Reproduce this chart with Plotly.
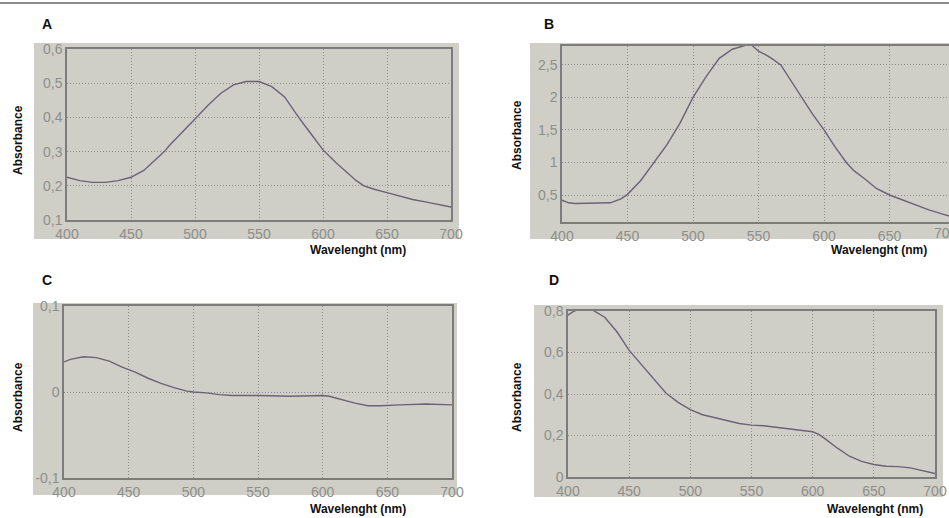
import plotly.graph_objects as go

W, H = 949, 518

# ---------------- data ----------------
wl_a = [400, 410, 420, 430, 440, 450, 460, 470, 476, 480, 490, 500, 510, 520, 530, 540, 550,
        560, 570, 581, 590, 600, 610, 620, 626, 632, 640, 650, 660, 670, 680, 690, 700]
abs_a = [0.225, 0.215, 0.21, 0.21, 0.215, 0.225, 0.245, 0.278, 0.30, 0.318, 0.355, 0.395,
         0.435, 0.47, 0.495, 0.505, 0.505, 0.49, 0.46, 0.40, 0.355, 0.305, 0.268, 0.235,
         0.215, 0.20, 0.19, 0.18, 0.17, 0.16, 0.153, 0.146, 0.138]

wl_b = [400, 405, 410, 420, 430, 437, 445, 450, 460, 470, 480, 490, 500, 510, 520, 530, 540,
        545, 550, 555, 560, 567, 575, 583, 591, 600, 608, 617, 623, 631, 640, 650, 660, 670,
        680, 690, 700]
abs_b = [0.42, 0.38, 0.37, 0.37, 0.37, 0.38, 0.44, 0.51, 0.72, 0.99, 1.27, 1.6, 2.0, 2.32,
         2.6, 2.74, 2.8, 2.8, 2.71, 2.66, 2.6, 2.5, 2.25, 2.0, 1.75, 1.5, 1.25, 1.0, 0.87,
         0.75, 0.6, 0.5, 0.42, 0.34, 0.27, 0.21, 0.15]

wl_c = [400, 405, 415, 425, 435, 445, 455, 465, 475, 485, 495, 500, 510, 520, 530, 550, 575,
        600, 605, 615, 625, 635, 645, 660, 680, 700]
abs_c = [0.035, 0.038, 0.041, 0.040, 0.036, 0.029, 0.023, 0.016, 0.010, 0.005, 0.001, 0.0,
         -0.001, -0.003, -0.004, -0.004, -0.005, -0.004, -0.005, -0.009, -0.013, -0.016,
         -0.016, -0.015, -0.014, -0.015]

wl_d = [400, 405, 410, 420, 430, 440, 450, 460, 470, 480, 490, 500, 510, 520, 530, 540, 550,
        560, 570, 580, 590, 600, 605, 610, 620, 630, 640, 650, 660, 670, 680, 690, 700]
abs_d = [0.78, 0.80, 0.81, 0.805, 0.77, 0.70, 0.61, 0.54, 0.47, 0.405, 0.36, 0.325, 0.30,
         0.285, 0.27, 0.258, 0.25, 0.247, 0.24, 0.233, 0.228, 0.218, 0.205, 0.185, 0.14, 0.10,
         0.075, 0.06, 0.052, 0.05, 0.044, 0.03, 0.017]

x_ticks = [400, 450, 500, 550, 600, 650, 700]
x_ticktext = ["400", "450", "500", "550", "600", "650", "700"]
ya_ticks = [0.1, 0.2, 0.3, 0.4, 0.5, 0.6]
ya_text = ["0,1", "0,2", "0,3", "0,4", "0,5", "0,6"]
yb_ticks = [0.5, 1, 1.5, 2, 2.5]
yb_text = ["0,5", "1", "1,5", "2", "2,5"]
yc_ticks = [-0.1, 0, 0.1]
yc_text = ["-0,1", "0", "0,1"]
yd_ticks = [0, 0.2, 0.4, 0.6, 0.8]
yd_text = ["0", "0,2", "0,4", "0,6", "0,8"]

panel_letters = ["A", "B", "C", "D"]
x_title = "Wavelenght (nm)"
y_title = "Absorbance"

# ---------------- styling ----------------
LINE = "#6c6278"
GRID = "#8c8c8c"
FRAME = "#7c7c7c"
TICKC = "#8e8e8a"
PHOTO = "#cfcfc7"
PLOTBG = "#dcdcd4"


def px_x(p):
    return p / W


def px_y(p):
    return 1 - p / H


fig = go.Figure()

panels = [
    dict(x=wl_a, y=abs_a, xd=(67, 451), yd=(49, 220), xr=[400, 700], yr=[0.1, 0.6],
         yt=ya_ticks, ytt=ya_text),
    dict(x=wl_b, y=abs_b, xd=(562, 949), yd=(46, 222), xr=[400, 695.4], yr=[0.085, 2.79],
         yt=yb_ticks, ytt=yb_text),
    dict(x=wl_c, y=abs_c, xd=(64, 452), yd=(306, 478), xr=[400, 700], yr=[-0.1, 0.1],
         yt=yc_ticks, ytt=yc_text),
    dict(x=wl_d, y=abs_d, xd=(568, 935), yd=(311, 477), xr=[400, 700], yr=[0, 0.8],
         yt=yd_ticks, ytt=yd_text),
]

tickfont = dict(family="Liberation Sans", size=14, color=TICKC)
layout_axes = {}
for i, p in enumerate(panels, start=1):
    xa = "x" if i == 1 else f"x{i}"
    ya = "y" if i == 1 else f"y{i}"
    fig.add_trace(go.Scatter(x=p["x"], y=p["y"], mode="lines", xaxis=xa, yaxis=ya,
                             line=dict(color=LINE, width=1.4),
                             showlegend=False, hoverinfo="skip"))
    xkey = "xaxis" if i == 1 else f"xaxis{i}"
    ykey = "yaxis" if i == 1 else f"yaxis{i}"
    common = dict(showgrid=True, gridcolor=GRID, griddash="1px,2px", gridwidth=1,
                  zeroline=False, showline=True, linecolor=FRAME, linewidth=1.5,
                  mirror=True, ticks="", tickfont=tickfont, fixedrange=True,
                  automargin=False, ticklabeloverflow="allow")
    layout_axes[xkey] = dict(domain=[px_x(p["xd"][0]), px_x(p["xd"][1])], range=p["xr"],
                             anchor=ya, tickvals=x_ticks, ticktext=x_ticktext, **common)
    layout_axes[ykey] = dict(domain=[px_y(p["yd"][1]), px_y(p["yd"][0])], range=p["yr"],
                             anchor=xa, tickvals=p["yt"], ticktext=p["ytt"], **common)

# photo backgrounds
photos = [(34, 43, 459, 239), (530, 43, 949, 239), (33, 303, 457, 495), (534, 305, 943, 497)]
shapes = []
for (x0, y0, x1, y1) in photos:
    shapes.append(dict(type="rect", xref="paper", yref="paper", x0=px_x(x0), x1=px_x(x1),
                       y0=px_y(y1), y1=px_y(y0), fillcolor=PHOTO, line=dict(width=0),
                       layer="below"))
# top rule
shapes.append(dict(type="line", xref="paper", yref="paper", x0=0, x1=1, y0=px_y(3), y1=px_y(3),
                   line=dict(color="#8a8a8a", width=2)))

annotations = []
letter_pos = [(47, 24), (549, 24), (47, 280), (554, 280)]
for letter, (lx, ly) in zip(panel_letters, letter_pos):
    annotations.append(dict(text=f"<b>{letter}</b>", x=px_x(lx), y=px_y(ly), xref="paper",
                            yref="paper", showarrow=False, xanchor="center", yanchor="middle",
                            font=dict(family="Liberation Sans", size=14, color="#111")))
ytitle_pos = [(18, 140), (517, 135), (18, 397), (517, 397)]
for (tx, ty) in ytitle_pos:
    annotations.append(dict(text=f"<b>{y_title}</b>", x=px_x(tx), y=px_y(ty), xref="paper",
                            yref="paper", showarrow=False, textangle=-90, xanchor="center",
                            yanchor="middle",
                            font=dict(family="Liberation Sans", size=12, color="#111")))
xtitle_pos = [(358, 250), (879, 250), (358, 509), (875, 509)]
for (tx, ty) in xtitle_pos:
    annotations.append(dict(text=f"<b>{x_title}</b>", x=px_x(tx), y=px_y(ty), xref="paper",
                            yref="paper", showarrow=False, xanchor="center", yanchor="middle",
                            font=dict(family="Liberation Sans", size=12, color="#111")))

# the "700" label on panel B, cut off by the photo edge: placed via the x2 scale
bx0, bx1 = panels[1]["xd"]
r0, r1 = panels[1]["xr"]
x700_paper = px_x(bx0 + (700 - r0) / (r1 - r0) * (bx1 - bx0) - 9)
annotations.append(dict(text=x_ticktext[-1], x=x700_paper, y=px_y(222), xref="paper",
                        yref="paper", showarrow=False, xanchor="center", yanchor="top",
                        yshift=-1, font=tickfont))

fig.update_layout(width=W, height=H, margin=dict(l=0, r=0, t=0, b=0, autoexpand=False),
                  paper_bgcolor="white", plot_bgcolor=PLOTBG, shapes=shapes,
                  annotations=annotations, **layout_axes)

fig.write_html("out.html", config={"displayModeBar": False},
               post_script="document.body.style.margin='0';document.body.style.overflow='hidden';")
